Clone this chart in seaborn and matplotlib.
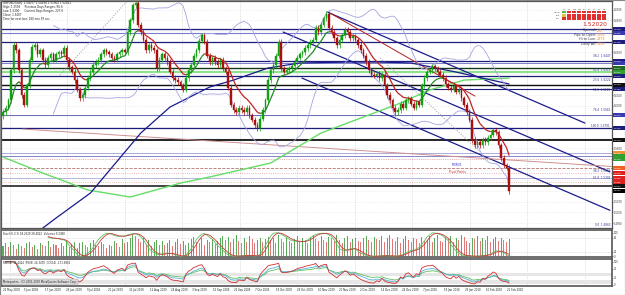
import numpy as np
import pandas as pd
import matplotlib
matplotlib.use("Agg")
import matplotlib.pyplot as plt
import seaborn as sns
from matplotlib.collections import LineCollection
from matplotlib.patches import Rectangle
from matplotlib.transforms import blended_transform_factory

# ---------------- data ----------------
first_open = 1.5900
closes = [
    1.594, 1.598, 1.605, 1.633, 1.657, 1.652, 1.633, 1.610, 1.601, 1.619,
    1.643, 1.655, 1.657, 1.648, 1.652, 1.643, 1.638, 1.645, 1.648, 1.643,
    1.648, 1.650, 1.648, 1.654, 1.643, 1.636, 1.632, 1.624, 1.615, 1.607,
    1.610, 1.617, 1.626, 1.632, 1.638, 1.641, 1.643, 1.648, 1.652, 1.650,
    1.648, 1.645, 1.643, 1.648, 1.650, 1.652, 1.650, 1.669, 1.680, 1.694,
    1.696, 1.676, 1.669, 1.662, 1.652, 1.657, 1.654, 1.652, 1.635, 1.643,
    1.648, 1.645, 1.641, 1.632, 1.626, 1.624, 1.622, 1.619, 1.615, 1.626,
    1.633, 1.638, 1.647, 1.652, 1.661, 1.666, 1.660, 1.647, 1.641, 1.645,
    1.641, 1.638, 1.643, 1.635, 1.632, 1.617, 1.601, 1.596, 1.594, 1.598,
    1.596, 1.594, 1.598, 1.591, 1.587, 1.582, 1.579, 1.588, 1.596, 1.605,
    1.624, 1.633, 1.638, 1.647, 1.660, 1.635, 1.632, 1.633, 1.635, 1.637,
    1.641, 1.645, 1.648, 1.650, 1.654, 1.657, 1.660, 1.662, 1.673, 1.669,
    1.676, 1.682, 1.686, 1.673, 1.669, 1.663, 1.657, 1.662, 1.666, 1.671,
    1.669, 1.663, 1.665, 1.662, 1.657, 1.652, 1.647, 1.641, 1.633, 1.629,
    1.628, 1.630, 1.626, 1.629, 1.619, 1.610, 1.605, 1.598, 1.594, 1.596,
    1.602, 1.598, 1.605, 1.607, 1.602, 1.598, 1.603, 1.601, 1.619, 1.626,
    1.632, 1.633, 1.637, 1.635, 1.632, 1.629, 1.626, 1.620, 1.617, 1.615,
    1.618, 1.613, 1.615, 1.607, 1.601, 1.594, 1.587, 1.568, 1.563, 1.566,
    1.563, 1.568, 1.566, 1.570, 1.573, 1.577, 1.575, 1.563, 1.551, 1.544,
    1.542, 1.5202,
]
volumes = [
    42, 55, 38, 60, 48, 30, 52, 44, 35, 58,
    62, 40, 47, 33, 56, 50, 45, 64, 38, 52,
    48, 36, 58, 44, 66, 40, 52, 60, 35, 57,
    63, 46, 39, 55, 70, 48, 42, 61, 53, 37,
    50, 44, 67, 58, 41, 72, 55, 63, 80, 92,
    85, 74, 60, 77, 52, 68, 45, 59, 71, 50,
    64, 48, 57, 69, 43, 62, 75, 54, 66, 49,
    58, 72, 81, 63, 55, 76, 47, 68, 60, 73,
    52, 65, 78, 88, 70, 82, 60, 74, 91, 67,
    57, 79, 63, 85, 72, 55, 68, 80, 61, 74,
    84, 69, 77, 58, 90, 73, 62, 81, 67, 55,
    74, 86, 64, 79, 70, 58, 83, 92, 75, 66,
    88, 71, 60, 82, 76, 64, 90, 69, 57, 78,
    85, 62, 73, 80, 66, 59, 77, 87, 70, 63,
    81, 74, 68, 86, 60, 77, 91, 72, 65, 83,
    58, 75, 88, 69, 62, 80, 73, 57, 84, 66,
    71, 86, 63, 78, 92, 67, 59, 81, 74, 87,
    62, 76, 69, 90, 83, 66, 58, 79, 72, 85,
    64, 77, 70, 88, 61, 74, 82, 67, 79, 71,
    63, 75,
]
date_labels = ["26 May 2009", "5 Jun 2009", "17 Jun 2009", "29 Jun 2009", "9 Jul 2009",
               "21 Jul 2009", "31 Jul 2009", "12 Aug 2009", "24 Aug 2009", "3 Sep 2009",
               "15 Sep 2009", "25 Sep 2009", "7 Oct 2009", "19 Oct 2009", "29 Oct 2009",
               "10 Nov 2009", "20 Nov 2009", "2 Dec 2009", "14 Dec 2009", "24 Dec 2009",
               "7 Jan 2010", "19 Jan 2010", "29 Jan 2010", "10 Feb 2010", "22 Feb 2010"]

# horizontal levels
level_prices = [1.6718, 1.6681, 1.6596, 1.6418, 1.6400, 1.6353, 1.6315, 1.6278, 1.6194, 1.6156,
                1.5912, 1.5791, 1.5678, 1.5556, 1.5528, 1.5500, 1.5416, 1.5369, 1.5322, 1.5285, 1.5247]
level_colors = ["#1c1c7c", "#7b7bd0", "#1c1c7c", "#1c1c7c", "#8080c8", "#163816", "#8fe08f", "#1c1c7c",
                "#111111", "#1c1c7c", "#6a6ab8", "#1c1c7c", "#111111", "#a0a0d8", "#7070c0", "#e09a9a",
                "#b07070", "#e0a0a0", "#a8a8d8", "#e0a0a0", "#111111"]
level_widths = [0.9, 0.8, 0.9, 0.9, 0.7, 1.0, 1.6, 0.9, 1.0, 0.8, 0.7, 0.9, 1.3, 0.6, 0.6, 0.6, 0.6, 0.6, 0.6, 0.6, 1.1]
level_styles = ["-", "-", "-", "-", "-", "-", "-", "-", "-", "-", "-", "-", "-", "-", "-", ":", "--", ":", "-", ":", "-"]
level_box_colors = ["#1c1c7c", "#3a3ab0", "#1c1c7c", "#1c1c7c", "#3a3ab0", "#1f6a1f", "#30a030", "#1c1c7c",
                    "#111111", "#1c1c7c", "#3a3ab0", "#1c1c7c", "#111111", "#f09030", "#30a030", "#30a030",
                    "#f06020", "#e02020", "#e02020", "#e02020", "#111111"]

# long moving averages
ma_navy_idx = [12, 20, 33, 52, 63, 78, 87, 100, 112, 131, 142, 154, 171, 191]
ma_navy_val = [1.4797, 1.4947, 1.5182, 1.5744, 1.5987, 1.6175, 1.6240, 1.6353, 1.6400, 1.6409,
               1.6409, 1.6400, 1.6315, 1.6203]
ma_green_idx = [0, 15, 32, 48, 67, 78, 101, 120, 150, 161, 174, 191]
ma_green_val = [1.5519, 1.5369, 1.5210, 1.5144, 1.5275, 1.5332, 1.5463, 1.5744, 1.6025, 1.6147,
                1.6240, 1.6259]

# trend lines
tl_x0 = [122.3, 105.7, 112.8, 123.4, 7.5, 21.5, 142.3]
tl_y0 = [1.6878, 1.6690, 1.6259, 1.6868, 1.5781, 1.6287, 1.6447]
tl_x1 = [219.6, 229.0, 229.0, 178.1, 230.0, 47.9, 180.0]
tl_y1 = [1.5837, 1.5380, 1.5020, 1.6090, 1.5430, 1.7009, 1.5566]
tl_colors = ["#1c1c8c", "#1c1c8c", "#1c1c8c", "#b02020", "#d09090", "#999999", "#999999"]
tl_styles = ["-", "-", "-", "-", "-", ":", ":"]

fib_names = ["38.2", "61.8", "23.6", "50.0", "76.4", "100.0", "38.2", "61.8", "0.0"]
fib_prices = [1.6447, 1.6315, 1.6222, 1.6128, 1.5941, 1.5791, 1.5369, 1.5303, 1.4863]

widget_rows = ["MACD", "STR", "CCI"]
widget_cols = ["M1", "M5", "M15", "M30", "H1", "H4", "D1", "W1", "MN"]
widget_state = [[1, -1, -1, -1, -1, -1, -1, -1, -1],
                [0, -1, -1, -1, -1, -1, -1, -1, -1],
                [-1, -1, -1, -1, -1, -1, -1, -1, -1]]

# ---------------- figure ----------------
sns.set_theme(style="white")
plt.rcParams['font.family'] = ['DejaVu Sans']
W, H = 625, 295
fig = plt.figure(figsize=(6.25, 2.95), dpi=100)
fig.patch.set_facecolor("white")


def rect(x0, y0, x1, y1):
    return [x0 / W, 1 - y1 / H, (x1 - x0) / W, (y1 - y0) / H]


ax = fig.add_axes(rect(1, 1, 612, 228))
ax_st = fig.add_axes(rect(1, 230, 612, 257))
ax_rs = fig.add_axes(rect(1, 259, 612, 286))
XL = (-0.755, 229.8)
for a in (ax, ax_st, ax_rs):
    a.set_facecolor("white")
    a.set_xlim(*XL)
    a.set_xticks([])
    for s_ in a.spines.values():
        s_.set_color("#555555")
        s_.set_linewidth(0.9)
    for gx in np.arange(2.6, 230, 21.7):
        a.axvline(gx, color="#c4c4c4", lw=0.5, ls=":", zorder=0)

c = np.array(closes)
n = len(c)
x = np.arange(n)
o = np.concatenate([[first_open], c[:-1]])

# --- main panel ---
YL = (1.4854, 1.6981)
ax.set_ylim(*YL)
px_per_price = 227 / (YL[1] - YL[0])
all_boxes = list(level_prices) + [closes[-1]]
yt_all = np.arange(1.49, 1.70, 0.01)
yt = [v for v in yt_all if min(abs(v - p) for p in all_boxes) * px_per_price > 4.2]
for v in yt_all:
    ax.axhline(v, color="#dddddd", lw=0.4, ls=":", zorder=0)
ax.set_yticks(yt)
ax.set_yticklabels([f"{v:.4f}" for v in yt])
ax.yaxis.tick_right()
ax.tick_params(axis="y", labelsize=1.8, length=1.0, pad=0.5, colors="#333333", width=0.4)

btrans = blended_transform_factory(ax.transAxes, ax.transData)
half = 1.75 / px_per_price
last_lab = None
box_list = sorted(zip(level_prices + [closes[-1]], level_box_colors + ["#000000"]), key=lambda t: -t[0])
for p, col, lw, ls in zip(level_prices, level_colors, level_widths, level_styles):
    ax.axhline(p, color=col, lw=lw, ls=ls, zorder=2)
for p, bc in box_list:
    ax.add_patch(Rectangle((1.0015, p - half), 0.03, 2 * half, transform=btrans, fc=bc, ec="none",
                           clip_on=False, zorder=9))
    if last_lab is None or (last_lab - p) * px_per_price >= 3.9:
        ax.text(1.0025, p, f"{p:.4f}", transform=btrans, fontsize=1.6, color="white",
                va="center", ha="left", clip_on=False, zorder=10)
        last_lab = p

for x0, y0, x1, y1, col, ls in zip(tl_x0, tl_y0, tl_x1, tl_y1, tl_colors, tl_styles):
    ax.plot([x0, x1], [y0, y1], color=col, lw=0.9 if col == "#1c1c8c" else 0.7, ls=ls, zorder=3)

# long MAs
sns.lineplot(x=ma_green_idx, y=ma_green_val, ax=ax, color="#66dd66", lw=1.0, zorder=3)
sns.lineplot(x=ma_navy_idx, y=ma_navy_val, ax=ax, color="#1a1a8c", lw=0.9, zorder=3)

# Bollinger bands
s = pd.Series(c)
mid = s.rolling(20).mean()
sd = s.rolling(20).std(ddof=0)
bb = pd.DataFrame({"x": x, "up": mid + 2 * sd, "lo": mid - 2 * sd}).dropna()
sns.lineplot(data=bb, x="x", y="up", ax=ax, color="#a4a4e2", lw=0.6, zorder=3)
sns.lineplot(data=bb, x="x", y="lo", ax=ax, color="#a4a4e2", lw=0.6, zorder=3)

# short EMA coloured by slope
ema = s.ewm(span=10, adjust=False).mean().values
pts = np.column_stack([x, ema])
segs = np.stack([pts[:-1], pts[1:]], axis=1)
seg_cols = np.where(np.diff(ema) >= 0, "#1b8a1b", "#c02020")
ax.add_collection(LineCollection(segs, colors=seg_cols, linewidths=0.9, zorder=6))

# candles
up = c >= o
ccol = np.where(up, "#12a012", "#a81010")
blo = np.minimum(o, c)
bhi = np.maximum(o, c)
bh = np.maximum(bhi - blo, 0.0006)
wick = 0.0025
ax.vlines(x, blo - wick, bhi + wick, colors=list(ccol), lw=0.5, zorder=4)
ax.bar(x, bh, bottom=blo, width=0.6, color=list(ccol), edgecolor=list(ccol), linewidth=0.3, zorder=5)
ax.set_xlabel("")
ax.set_ylabel("")

# fib labels
for nm, p in zip(fib_names, fib_prices):
    ax.text(0.997, p, f"{nm}  {p:.4f}", transform=ax.get_yaxis_transform(), fontsize=2.0,
            color="#3030a0", ha="right", va="bottom", zorder=8)

ax.text(171.5, 1.5440, "MOR31", fontsize=2.2, color="#3030c0", ha="center", va="center", zorder=8)
ax.text(171.5, 1.5378, "Pivot Points", fontsize=2.2, color="#d03030", ha="center", va="center", zorder=8)


def ftext(xp, yp, t, **kw):
    fig.text(xp / W, 1 - yp / H, t, **kw)


# info text top-left
info = ["GBPUSD,Daily  1.54077 1.54194 1.51902 1.52021",
        "High: 1.5595     Previous Days Ranges: 96.6",
        "Low: 1.5200      Current Days Ranges: 227.6",
        "Close: 1.5407",
        "Time for next bar: 180 min 59 sec"]
for k, t in enumerate(info):
    ftext(3, 3.2 + k * 3.9, t, fontsize=2.0, color="#222222", va="center", ha="left")

# widget top-right
cell_w, cell_h = 5.0, 2.8
state_col = {1: "#5cb83c", 0: "#d8c840", -1: "#e03030"}
for j, cl in enumerate(widget_cols):
    ftext(562 + j * cell_w + cell_w / 2, 9.0, cl, fontsize=1.4, color="#333333", ha="center", va="center")
for r, rn in enumerate(widget_rows):
    yc = 12.0 + r * 3.4
    ftext(560, yc, rn, fontsize=1.5, color="#333333", ha="right", va="center")
    for j in range(len(widget_cols)):
        fig.patches.append(Rectangle(((562 + j * cell_w) / W, 1 - (yc + cell_h / 2) / H),
                                     (cell_w - 0.6) / W, cell_h / H, transform=fig.transFigure,
                                     fc=state_col[widget_state[r][j]], ec="none", zorder=10))
ftext(607, 24.5, f"{closes[-1]:.5f}", fontsize=4.3, color="#d02020", ha="right", va="center")
side = [("Spread: ", "2.0"), ("Pips to Open: ", "2008"), ("Hi to Low: ", "2379"), ("Daily Av: ", "1358")]
for k, (lab, val) in enumerate(side):
    yy = 30.5 + k * 4.5
    ftext(597, yy, lab, fontsize=2.4, color="#444444", ha="right", va="center")
    ftext(597, yy, val, fontsize=2.4, color="#f09020", ha="left", va="center")

# --- stochastic + volumes panel ---
ax_st.set_ylim(-3, 112)
vol = np.array(volumes)
vcol = ["#5aaa5a" if (i == 0 or vol[i] >= vol[i - 1]) else "#e07a7a" for i in range(n)]
ax_st.bar(x, vol, width=0.38, color=vcol, linewidth=0, zorder=2)
lo_n = s.rolling(12).min()
hi_n = s.rolling(12).max()
kraw = 100 * (s - lo_n) / (hi_n - lo_n)
kline = kraw.rolling(5).mean()
dline = kline.rolling(3).mean()
st = pd.DataFrame({"x": x, "k": kline, "d": dline}).dropna()
sns.lineplot(data=st, x="x", y="k", ax=ax_st, color="#5cc05c", lw=0.6, zorder=3)
sns.lineplot(data=st, x="x", y="d", ax=ax_st, color="#c83a3a", lw=0.6, zorder=3)
for lv in (20, 80):
    ax_st.axhline(lv, color="#bbbbbb", lw=0.4, ls=":", zorder=1)
ax_st.set_yticks([0, 20, 80, 100])
ax_st.yaxis.tick_right()
ax_st.tick_params(axis="y", labelsize=1.8, length=1.0, pad=0.5, colors="#333333", width=0.4)
ax_st.set_xlabel("")
ax_st.set_ylabel("")
ax_st.text(0.003, 0.93, "Stoch(5,3,3) 18.2629 28.4022  Volumes 9.2490", transform=ax_st.transAxes,
           fontsize=1.9, color="#222222", va="top", ha="left", zorder=8)
for sp in ax_st.spines.values():
    sp.set_linewidth(1.2)


# --- RSI panel ---
def rsi(series, p):
    d = series.diff()
    g = d.clip(lower=0).ewm(alpha=1 / p, adjust=False).mean()
    l_ = (-d.clip(upper=0)).ewm(alpha=1 / p, adjust=False).mean()
    return 100 - 100 / (1 + g / l_)


ax_rs.set_ylim(-5, 112)
ax_rs.axhspan(38, 50, color="#e6e6e6", zorder=0, lw=0)
ax_rs.axhspan(4, 20, color="#e6e6e6", zorder=0, lw=0)
rs = pd.DataFrame({"x": x, "r5": rsi(s, 5), "r9": rsi(s, 9), "r14": rsi(s, 14)}).dropna()
sns.lineplot(data=rs, x="x", y="r14", ax=ax_rs, color="#60c060", lw=0.6, zorder=3)
sns.lineplot(data=rs, x="x", y="r9", ax=ax_rs, color="#5ab0d8", lw=0.6, zorder=3)
sns.lineplot(data=rs, x="x", y="r5", ax=ax_rs, color="#d03030", lw=0.6, zorder=4)
ax_rs.set_yticks([0, 30, 70, 100])
ax_rs.yaxis.tick_right()
ax_rs.tick_params(axis="y", labelsize=1.8, length=1.0, pad=0.5, colors="#333333", width=0.4)
ax_rs.set_xlabel("")
ax_rs.set_ylabel("")
ax_rs.text(0.003, 0.93, "RSI(14) 31.4424  RSI(9) 24.3470  CCI(14) -171.9801", transform=ax_rs.transAxes,
           fontsize=1.9, color="#222222", va="top", ha="left", zorder=8)
ax_rs.text(0.003, 0.08, "Metaquotes - (C) 2001-2009 MetaQuotes Software Corp.", transform=ax_rs.transAxes,
           fontsize=1.9, color="#222222", va="bottom", ha="left", zorder=8,
           bbox=dict(boxstyle="square,pad=0.3", fc="#dcdcdc", ec="#999999", lw=0.3))
for sp in ax_rs.spines.values():
    sp.set_linewidth(1.2)

# date labels
for k, lab in enumerate(date_labels):
    ax_rs.text(k * 7.92, -0.15, lab, transform=ax_rs.get_xaxis_transform(), fontsize=1.9,
               color="#222222", ha="left", va="center", clip_on=False)

fig.patches.append(Rectangle((0, 0), 1, 1, transform=fig.transFigure, fill=False, ec="#888888", lw=0.8))
fig.savefig("out.png", dpi=100)
